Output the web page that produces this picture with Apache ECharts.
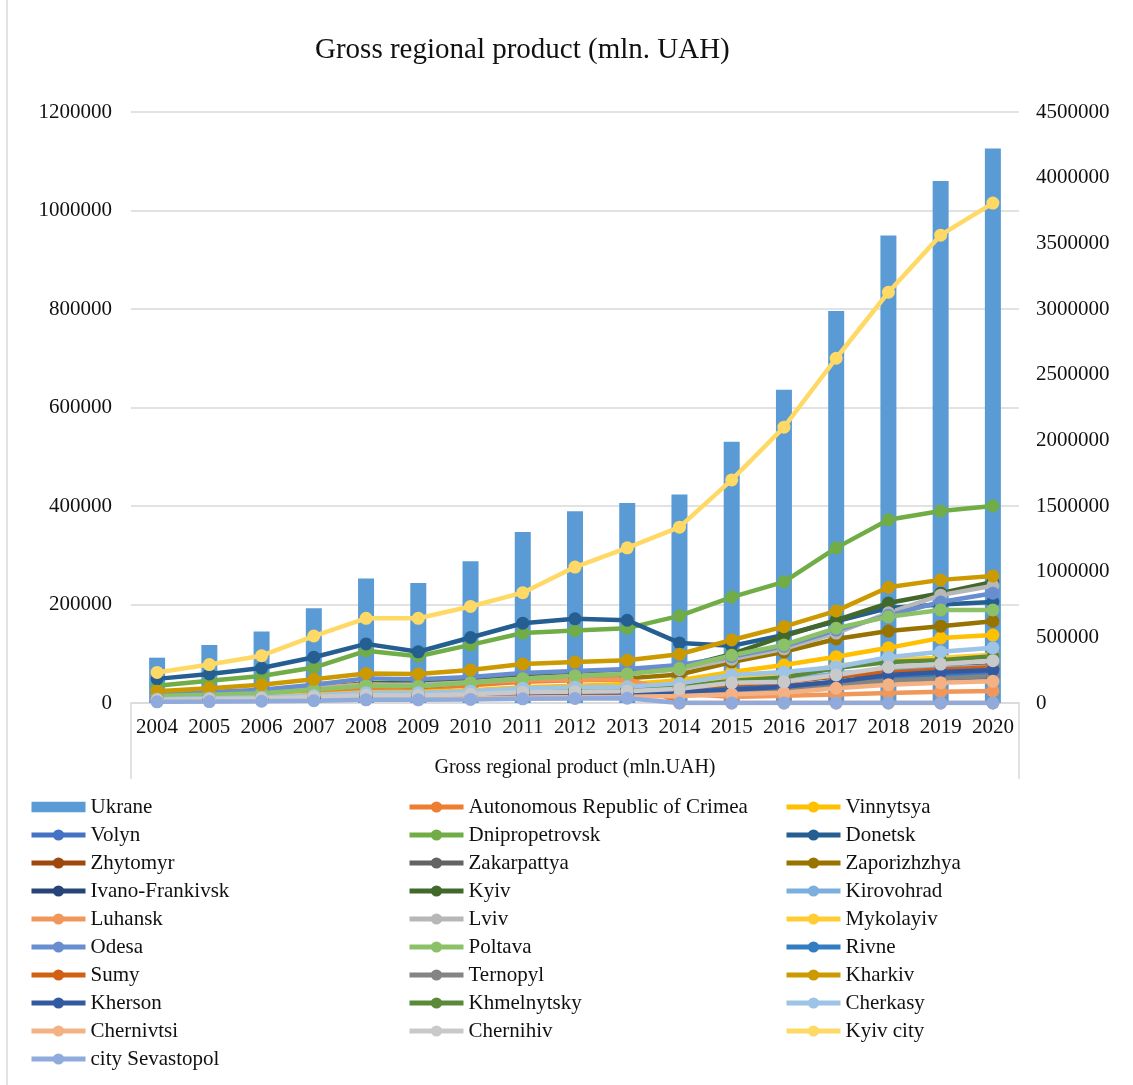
<!DOCTYPE html>
<html>
<head>
<meta charset="utf-8">
<script src="https://cdn.jsdelivr.net/npm/echarts@6/dist/echarts.min.js"></script>
<style>
html,body{margin:0;padding:0;background:#fff;}
#chart{width:1133px;height:1085px;}
</style>
</head>
<body>
<div id="chart"></div>
<script>
var years = ['2004','2005','2006','2007','2008','2009','2010','2011','2012','2013','2014','2015','2016','2017','2018','2019','2020'];

var ukraine        = [345113,441452,544153,720731,948056,913345,1079346,1302079,1459096,1522657,1586915,1988544,2385367,2983882,3560596,3974564,4222026];
var crimea         = [11700,13800,16500,21900,28000,28200,36000,43000,46000,47000,0,0,0,0,0,0,0];
var vinnytsya      = [9000,11000,13000,17000,22000,23000,26000,32000,35000,38000,46000,63000,77000,94000,112000,132000,138000];
var volyn          = [5100,6500,7800,10500,13500,13000,15500,19000,20000,21000,22000,29000,34000,43000,51000,57000,61000];
var dnipro         = [35000,45000,55000,72000,106000,95000,118000,142000,147000,152000,177000,215000,246000,315000,372000,390000,400000];
var donetsk        = [49000,59000,71000,93000,120000,104000,133000,162000,171000,168000,122000,116000,138000,166000,193000,200000,205000];
var zhytomyr       = [6300,7700,9300,12000,16500,17000,19500,23500,25000,26000,29000,37000,43000,54000,64000,72000,76000];
var zakarpattya    = [5400,6300,7700,9500,12500,12000,13500,16000,17000,18500,20000,26000,30000,37000,44000,49000,53000];
var zaporizhzhya   = [17000,21000,25000,32000,39000,33000,41000,48000,50000,50000,58000,83000,104000,130000,146000,156000,166000];
var ivanoFrankivsk = [7400,9000,11000,14500,19000,19000,21500,27000,29000,30000,32000,38000,45000,55000,63000,67000,70000];
var kyivOblast     = [12900,17000,20500,29000,40000,41000,46000,56000,61000,66000,72000,99000,136000,168000,203000,223000,246000];
var kirovohrad     = [5400,6800,8000,11000,15000,15500,17500,23000,25000,26000,30000,40000,46000,60000,68000,71000,74000];
var luhansk        = [16000,19500,23000,30500,38000,34000,41000,46000,47000,48000,20000,12000,14500,17500,20500,23000,24500];
var lviv           = [15000,18500,22000,29000,37000,37000,42000,50000,55000,60000,68000,89000,110000,142000,183000,219000,238000];
var mykolayiv      = [7600,9400,11500,15500,20000,20500,24000,29000,31000,32000,37000,48000,57000,75000,88000,92000,98000];
var odesa          = [18000,22500,27000,37000,50000,48000,53000,61000,65000,69000,77000,94000,115000,148000,178000,205000,223000];
var poltava        = [14000,17000,20000,27000,35000,34000,41000,49000,55000,59000,70000,97000,118000,152000,175000,189000,189000];
var rivne          = [5700,7000,8300,11000,13500,13000,15000,19000,20000,21000,22000,29000,33000,41000,48000,53000,56000];
var sumy           = [6600,8000,9500,12500,16000,17000,19000,23000,25000,26000,30000,38000,43000,55000,62000,68000,72000];
var ternopyl       = [4400,5500,6500,8500,11000,11500,13000,16000,17500,18000,20000,25000,29000,38000,45000,50000,55000];
var kharkiv        = [24000,30000,37000,48000,60000,59000,67000,79000,83000,87000,99000,128000,155000,187000,235000,250000,258000];
var kherson        = [5200,6100,7300,9400,12700,13000,15000,17500,19500,20000,22000,27000,33000,43000,57000,63000,67000];
var khmelnytsky    = [6400,8000,9500,13000,17000,17500,20000,24000,26000,28000,32000,45000,52000,71000,83000,87000,95000];
var cherkasy       = [7600,9500,11000,15000,21000,21000,24000,30000,32000,33000,40000,57000,63000,73000,93000,104000,112000];
var chernivtsi     = [3200,4000,4800,6400,8000,8300,9600,11000,12000,12500,14000,18000,21000,30000,37000,41000,44000];
var chernihiv      = [6000,7500,9000,12000,15500,15000,18000,22000,23000,24000,29000,41000,43000,57000,73000,79000,86000];
var kyivCity       = [62000,78000,96000,136000,172000,172000,196000,224000,276000,315000,357000,453000,560000,700000,834000,950000,1015000];
var sevastopol     = [2300,2900,3600,4700,6400,6500,7200,8500,9200,9800,0,0,0,0,0,0,0];

var leftTicks = [0,200000,400000,600000,800000,1000000,1200000];
var rightTicks = [0,500000,1000000,1500000,2000000,2500000,3000000,3500000,4000000,4500000];

var lineDefs = [
  ['Autonomous Republic of Crimea', crimea, '#ED7D31'],
  ['Vinnytsya', vinnytsya, '#FFC000'],
  ['Volyn', volyn, '#4472C4'],
  ['Dnipropetrovsk', dnipro, '#70AD47'],
  ['Donetsk', donetsk, '#255E91'],
  ['Zhytomyr', zhytomyr, '#9E480E'],
  ['Zakarpattya', zakarpattya, '#636363'],
  ['Zaporizhzhya', zaporizhzhya, '#997300'],
  ['Ivano-Frankivsk', ivanoFrankivsk, '#264478'],
  ['Kyiv', kyivOblast, '#43682B'],
  ['Kirovohrad', kirovohrad, '#7CAFDD'],
  ['Luhansk', luhansk, '#F1975A'],
  ['Lviv', lviv, '#B7B7B7'],
  ['Mykolayiv', mykolayiv, '#FFCD33'],
  ['Odesa', odesa, '#698ED0'],
  ['Poltava', poltava, '#8CC168'],
  ['Rivne', rivne, '#327DC2'],
  ['Sumy', sumy, '#D26012'],
  ['Ternopyl', ternopyl, '#848484'],
  ['Kharkiv', kharkiv, '#CC9A00'],
  ['Kherson', kherson, '#335AA1'],
  ['Khmelnytsky', khmelnytsky, '#5A8A39'],
  ['Cherkasy', cherkasy, '#9DC3E6'],
  ['Chernivtsi', chernivtsi, '#F4B183'],
  ['Chernihiv', chernihiv, '#C9C9C9'],
  ['Kyiv city', kyivCity, '#FFD966'],
  ['city Sevastopol', sevastopol, '#8FAADC']
];

var FONT = "'Liberation Serif', 'Times New Roman', serif";
var chart = echarts.init(document.getElementById('chart'), null, {renderer: 'canvas'});

var series = [{
  name: 'Ukrane', type: 'bar', yAxisIndex: 1, data: ukraine, barWidth: 16,
  itemStyle: {color: '#5B9BD5'}, z: 1
}];
lineDefs.forEach(function (d) {
  series.push({
    name: d[0], type: 'line', yAxisIndex: 0, data: d[1],
    symbol: 'circle', symbolSize: 13, showSymbol: true,
    lineStyle: {width: 4.5, color: d[2]},
    itemStyle: {color: d[2]},
    z: 2
  });
});

var allNames = ['Ukrane'].concat(lineDefs.map(function (d) { return d[0]; }));
function legendCol(col, left) {
  var data = [];
  for (var i = col; i < allNames.length; i += 3) {
    if (allNames[i] === 'Ukrane') {
      data.push({name: 'Ukrane', icon: 'path://M0,0 L51,0 L51,10 L0,10 Z'});
    } else {
      data.push({name: allNames[i]});
    }
  }
  return {
    type: 'plain', orient: 'vertical', left: left, top: 796, height: 289, padding: 0,
    itemWidth: 54, itemHeight: 14, itemGap: 6,
    data: data, selectedMode: false,
    lineStyle: {width: 5},
    textStyle: {fontFamily: FONT, fontSize: 21, lineHeight: 22, color: '#111'}
  };
}
function plain(v) { return String(v); }

chart.setOption({
  animation: false,
  backgroundColor: '#fff',
  title: {
    text: 'Gross regional product (mln. UAH)', left: 310, top: 31,
    textStyle: {fontFamily: FONT, fontSize: 29, fontWeight: 'normal', color: '#111'}
  },
  legend: [legendCol(0, 29), legendCol(1, 407), legendCol(2, 784)],
  grid: {left: 131, right: 114, top: 112, bottom: 382, containLabel: false},
  xAxis: {
    type: 'category', data: years, boundaryGap: true,
    axisLine: {show: true, lineStyle: {color: '#D9D9D9', width: 1.5}},
    axisTick: {show: false},
    axisLabel: {fontFamily: FONT, fontSize: 21, color: '#111', margin: 14, interval: 0},
    name: 'Gross regional product (mln.UAH)', nameLocation: 'middle', nameGap: 55,
    nameTextStyle: {fontFamily: FONT, fontSize: 20, color: '#111'}
  },
  yAxis: [{
    type: 'value', min: leftTicks[0], max: leftTicks[leftTicks.length - 1], interval: leftTicks[1] - leftTicks[0],
    axisLine: {show: false}, axisTick: {show: false},
    splitLine: {lineStyle: {color: '#D9D9D9', width: 1.5}},
    axisLabel: {fontFamily: FONT, fontSize: 21, color: '#111', margin: 19, formatter: plain}
  }, {
    type: 'value', min: rightTicks[0], max: rightTicks[rightTicks.length - 1], interval: rightTicks[1] - rightTicks[0],
    position: 'right',
    axisLine: {show: false}, axisTick: {show: false}, splitLine: {show: false},
    axisLabel: {fontFamily: FONT, fontSize: 21, color: '#111', margin: 17, formatter: plain}
  }],
  graphic: [
    {type: 'line', shape: {x1: 131, y1: 703, x2: 131, y2: 779}, style: {stroke: '#D9D9D9', lineWidth: 1.5}, silent: true},
    {type: 'line', shape: {x1: 1019, y1: 703, x2: 1019, y2: 779}, style: {stroke: '#D9D9D9', lineWidth: 1.5}, silent: true},
    {type: 'line', shape: {x1: 7, y1: 0, x2: 7, y2: 1085}, style: {stroke: '#D9D9D9', lineWidth: 1.5}, silent: true}
  ],
  series: series
});
</script>
</body>
</html>
